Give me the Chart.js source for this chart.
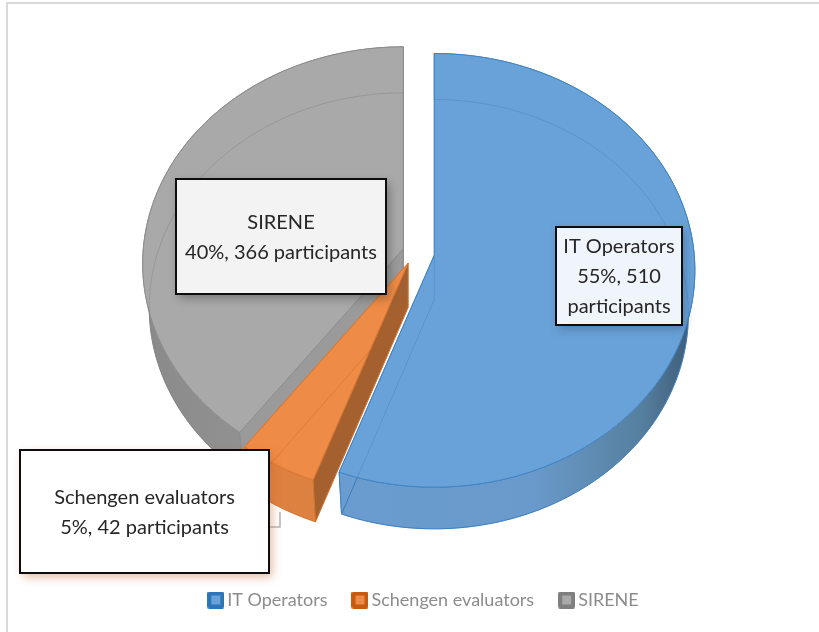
<!DOCTYPE html>
<html><head><meta charset="utf-8">
<script src="https://cdn.jsdelivr.net/npm/chart.js@4"></script>
<style>html,body{margin:0;padding:0;background:#fff}canvas{display:block}</style>
</head><body>
<div style="width:819px;height:632px;position:relative"><canvas id="c" width="819" height="632"></canvas></div>
<script>
const categories = ['IT Operators', 'Schengen evaluators', 'SIRENE'];
const participants = [510, 42, 366];
const calloutLines = [
  ['IT Operators', '55%, 510', 'participants'],
  ['Schengen evaluators', '5%, 42 participants'],
  ['SIRENE', '40%, 366 participants']
];
const topColors = ['#69a2d8', '#ee8b46', '#a9a9a9'];
const edgeColors = ['#3f83c4', '#d9742c', '#8c8c8c'];
const legendBorder = ['#2e75b6', '#c55a11', '#7f7f7f'];
const legendInner = ['#69a2d8', '#ee8b46', '#a9a9a9'];
const wallColors = ['#6a9ccf', '#a4602f', '#9a9a9a'];
const sideGradients = [
  [['0', '#6a9ccf'], ['0.55', '#6a9acb'], ['0.85', '#56809f'], ['1', '#3d5a78']],
  [['0', '#dc8040'], ['1', '#e08545']],
  [['0', '#8a8a8a'], ['0.6', '#a0a0a0'], ['1', '#8f8f8f']]
];
const apexNudge = [[-1, 0], [-3, -2], [0, 0]];
const boxes = [
  {x: 556, y: 227, w: 126, h: 98, fill: 'rgba(240,245,252,1)', shadow: 'rgba(40,60,90,0.35)'},
  {x: 20, y: 450, w: 249, h: 123, fill: '#ffffff', shadow: 'rgba(200,100,40,0.45)'},
  {x: 176, y: 179, w: 210, h: 115, fill: '#f3f3f3', shadow: 'rgba(40,40,40,0.4)'}
];
const CX = 419, CY = 253, R = 260, K = 0.83, P = 0.069, LOWER_SCALE_X = 0.975, LOWER_SCALE_Y = 0.99, DEPTH = 44;
const FONT = 'Lato, Carlito, sans-serif';

function project(theta, rad) {
  const u = Math.cos(theta) * rad, v = Math.sin(theta) * rad;
  const w = 1 - P * v / R;
  return {x: u / w, y: K * v / w};
}
function apexOf(arc, off, i) {
  const mid = (arc.startAngle + arc.endAngle) / 2;
  return {x: CX + apexNudge[i][0] + Math.cos(mid) * off, y: CY + apexNudge[i][1] + Math.sin(mid) * off * K};
}
function place(p, a, lower) {
  return lower ? {x: a.x + p.x * LOWER_SCALE_X, y: a.y + DEPTH + p.y * LOWER_SCALE_Y}
               : {x: a.x + p.x, y: a.y + p.y};
}
function edgePoints(arc, a, lower) {
  const pts = [], n = 120;
  for (let i = 0; i <= n; i++) {
    const t = arc.startAngle + (arc.endAngle - arc.startAngle) * i / n;
    pts.push(place(project(t, arc.outerRadius), a, lower));
  }
  return pts;
}
function pathOf(ctx, pts) {
  ctx.beginPath();
  pts.forEach((p, i) => i ? ctx.lineTo(p.x, p.y) : ctx.moveTo(p.x, p.y));
}
function drawPie(chart) {
  const ctx = chart.ctx, meta = chart.getDatasetMeta(0);
  const arcs = meta.data.map((el, i) => ({
    i, startAngle: el.startAngle, endAngle: el.endAngle, outerRadius: el.outerRadius,
    apex: apexOf(el, (el.options.offset || 0) / 4, i)
  }));
  ctx.save();
  [2, 0, 1].forEach(i => {
    const a = arcs[i];
    const top = edgePoints(a, a.apex, false), low = edgePoints(a, a.apex, true);
    const left = i === 0 ? a.apex.x - 100 : a.apex.x - R;
    const g = ctx.createLinearGradient(left, 0, a.apex.x + R, 0);
    sideGradients[i].forEach(s => g.addColorStop(+s[0], s[1]));
    ctx.fillStyle = g;
    pathOf(ctx, top.concat(low.slice().reverse()));
    ctx.closePath();
    ctx.fill();
    ctx.strokeStyle = edgeColors[i]; ctx.lineWidth = 1; ctx.stroke();
    const lowA = place({x: 0, y: 0}, a.apex, true);
    const endTop = i === 0 ? top[top.length - 1] : top[0];
    const endLow = i === 0 ? low[low.length - 1] : low[0];
    ctx.fillStyle = wallColors[i];
    pathOf(ctx, [a.apex, endTop, endLow, lowA]);
    ctx.closePath();
    ctx.fill(); ctx.stroke();
  });
  [2, 0, 1].forEach(i => {
    const a = arcs[i];
    const top = edgePoints(a, a.apex, false);
    pathOf(ctx, [a.apex].concat(top));
    ctx.closePath();
    ctx.fillStyle = topColors[i]; ctx.fill();
    ctx.strokeStyle = edgeColors[i]; ctx.lineWidth = 1; ctx.stroke();
    const low = edgePoints(a, a.apex, true);
    const lowA = place({x: 0, y: 0}, a.apex, true);
    pathOf(ctx, [lowA].concat(low));
    ctx.closePath();
    ctx.strokeStyle = i === 0 ? 'rgba(60,120,180,0.35)' : i === 1 ? 'rgba(200,100,30,0.4)' : 'rgba(110,110,110,0.3)';
    ctx.stroke();
  });
  ctx.restore();
}
function drawCallouts(chart) {
  const ctx = chart.ctx;
  ctx.save();
  ctx.strokeStyle = '#b5b5b5'; ctx.lineWidth = 1.5;
  ctx.beginPath(); ctx.moveTo(262, 527); ctx.lineTo(280, 527); ctx.lineTo(280, 512); ctx.stroke();
  boxes.forEach((b, i) => {
    ctx.save();
    ctx.shadowColor = b.shadow; ctx.shadowBlur = 9; ctx.shadowOffsetX = 3; ctx.shadowOffsetY = 4;
    ctx.fillStyle = b.fill; ctx.fillRect(b.x, b.y, b.w, b.h);
    ctx.restore();
    ctx.strokeStyle = '#0d0d0d'; ctx.lineWidth = 2;
    ctx.strokeRect(b.x, b.y, b.w, b.h);
    const lines = calloutLines[i];
    ctx.fillStyle = '#262626';
    ctx.font = '20px ' + FONT;
    ctx.textAlign = 'center'; ctx.textBaseline = 'middle';
    const lh = 30, start = b.y + b.h / 2 + 1 - (lines.length - 1) * lh / 2;
    lines.forEach((t, j) => ctx.fillText(t, b.x + b.w / 2, start + j * lh));
  });
  ctx.restore();
}
function drawFrame(chart) {
  const ctx = chart.ctx;
  ctx.save();
  ctx.strokeStyle = '#d9d9d9'; ctx.lineWidth = 2;
  ctx.beginPath(); ctx.moveTo(7, 632); ctx.lineTo(7, 3); ctx.lineTo(819, 3); ctx.stroke();
  ctx.restore();
}
function legendSwatch(i) {
  const s = 17, cv = document.createElement('canvas');
  cv.width = s; cv.height = s;
  const x = cv.getContext('2d');
  x.fillStyle = legendBorder[i]; x.beginPath(); x.roundRect(0, 0, s, s, 2); x.fill();
  x.fillStyle = legendInner[i]; x.fillRect(4, 4, s - 8, s - 8);
  return cv;
}
const pie3d = {
  id: 'pie3d',
  beforeDatasetDraw(chart) { drawPie(chart); return false; },
  afterDatasetsDraw(chart) { drawCallouts(chart); },
  beforeDraw(chart) { drawFrame(chart); }
};
new Chart(document.getElementById('c'), {
  type: 'pie',
  data: { labels: categories, datasets: [{ data: participants, backgroundColor: topColors, borderColor: edgeColors, offset: 66 }] },
  options: {
    responsive: false, animation: false, radius: R,
    layout: { padding: { left: 33, right: 0, bottom: 13, top: 0 } },
    plugins: {
      tooltip: { enabled: false },
      legend: {
        position: 'bottom',
        labels: {
          color: '#8c8c8c', font: { family: FONT, size: 18 },
          usePointStyle: true, boxWidth: 5, boxHeight: 17, padding: 30,
          generateLabels: c => categories.map((t, i) => ({
            text: t, pointStyle: legendSwatch(i), fontColor: '#8c8c8c', fillStyle: legendBorder[i],
            strokeStyle: legendBorder[i], lineWidth: 0, hidden: false, index: i
          }))
        }
      }
    }
  },
  plugins: [pie3d]
});
</script>
</body></html>
